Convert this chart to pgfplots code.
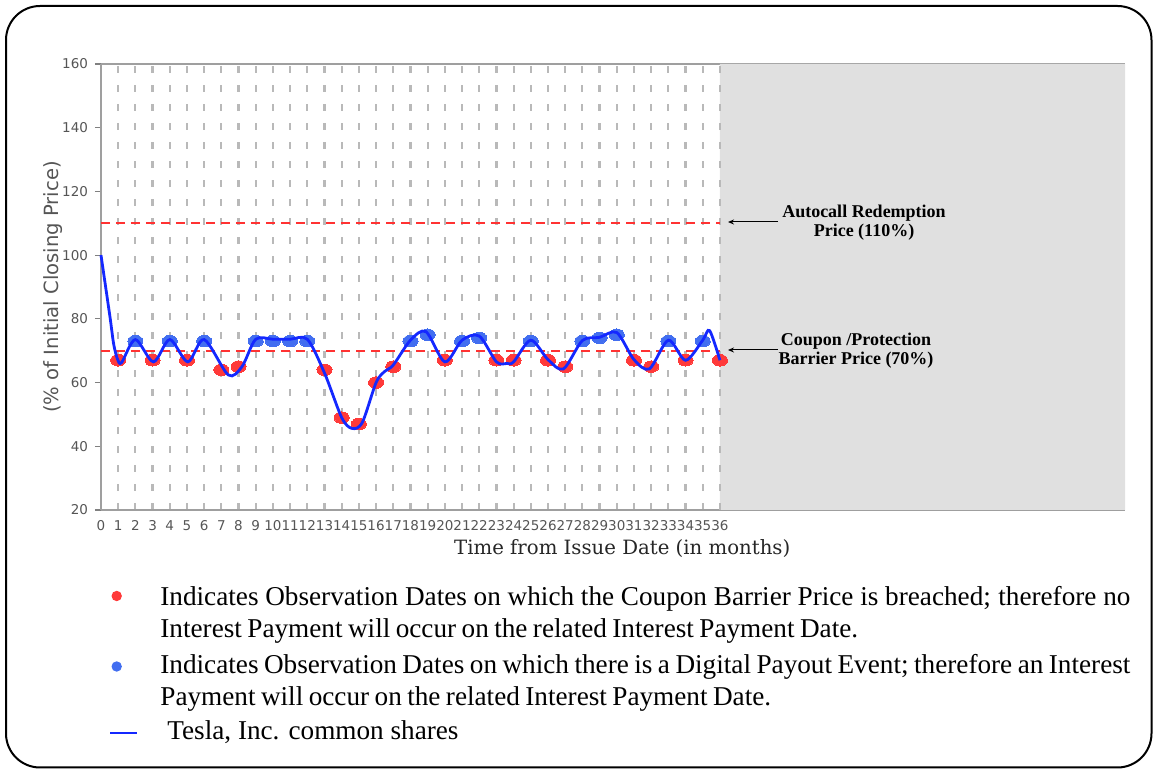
\documentclass[border=0pt]{standalone}
\usepackage{pgfplots}
\pgfplotsset{compat=1.18}
\usepackage{fontspec}
\setmainfont{Liberation Serif}
\newfontfamily\dejavu{DejaVu Sans}
\newfontfamily\dejavuserif{DejaVu Serif}
\usetikzlibrary{arrows.meta}
\definecolor{mkred}{RGB}{255,58,58}
\definecolor{mkblue}{RGB}{66,110,240}
\definecolor{lnblue}{RGB}{20,40,255}
\definecolor{shade}{RGB}{224,224,224}
\definecolor{txtgray}{RGB}{85,85,85}
\definecolor{dashred}{RGB}{255,50,50}
\begin{document}
\begin{tikzpicture}
\begin{scope}[x=0.5pt,y=-0.5pt]
\useasboundingbox (0,0) rectangle (1153,769);
\draw[line width=1pt, rounded corners=17pt] (6,6) rectangle (1151.5,767.5);
\end{scope}
\begin{axis}[
  at={(50.5pt,-32pt)}, anchor=north west,
  scale only axis, width=512pt, height=223pt,
  xmin=0, xmax=59.56, ymin=20, ymax=160,
  axis x line*=box, axis y line*=left,
  axis line style={draw=gray!75, line width=0.9pt},
  xtick={0,...,36},
  ytick={20,40,...,160},
  x tick style={draw=none},
  y tick style={draw=gray, line width=0.6pt},
  tick align=outside, major tick length=3pt,
  xmajorgrids,
  grid style={dash pattern=on 3.5pt off 6pt, line width=1.1pt, color=gray!55},
  /pgf/number format/assume math mode=true,
  ticklabel style={font=\dejavu\fontsize{6.75}{8}\selectfont, text=txtgray},
  xticklabel style={inner sep=1pt, yshift=-1pt},
  ylabel={(\% of Initial Closing Price)},
  ylabel style={font=\dejavu\fontsize{9.8}{11}\selectfont, text=txtgray, at={(axis description cs:-0.047,0.5)}, anchor=center, rotate=0},
  xlabel={Time from Issue Date (in months)},
  xlabel style={font=\dejavuserif\fontsize{9.85}{11}\selectfont, text=black!85, at={(axis description cs:0.509,-0.087)}, anchor=center},
  clip=false,
  clip marker paths=true,
]
\addplot[draw=none, fill=shade] coordinates {(36,20) (59.56,20) (59.56,160) (36,160)} \closedcycle;
\addplot[dash pattern=on 3.5pt off 6pt, line width=1.1pt, color=gray!55] coordinates {(36,20) (36,160)};
\addplot[dashred, line width=1pt, dash pattern=on 4.5pt off 3pt] coordinates {(0,110) (36,110)};
\addplot[dashred, line width=1pt, dash pattern=on 4.5pt off 3pt] coordinates {(0,70) (36,70)};
\addplot[only marks, color=mkred, mark=*, mark size=2.9pt, mark options={draw=mkred, fill=mkred, line width=0pt, xscale=1.3}] coordinates {
(1,67) (3,67) (5,67) (7,64) (8,65) (13,64) (14,49) (15,47) (16,60) (17,65)
(20,67) (23,67) (24,67) (26,67) (27,65) (31,67) (32,65) (34,67) (36,67)};
\addplot[only marks, color=mkblue, mark=*, mark size=2.9pt, mark options={draw=mkblue, fill=mkblue, line width=0pt, xscale=1.3}] coordinates {
(2,73) (4,73) (6,73) (9,73) (10,73) (11,73) (12,73) (18,73) (19,75) (21,73)
(22,74) (25,73) (28,73) (29,74) (30,75) (33,73) (35,73)};
\addplot[lnblue, line width=1.4pt, smooth, mark=none] coordinates {
(0,100) (0.52,80.7) (0.74,72) (0.97,67.2) (1.2,66.3) (2,73.5) (3.05,66.5) (4,73.5) (5.05,66.5) (6,73.5)
(7.4,62.4) (8.2,65) (9,73.6) (10,73.6) (11,73.6) (12,73.6) (13,63) (14,49) (14.6,45.6)
(15.2,47.5) (16,60) (16.5,63.5) (17,65.5) (18,73.3) (18.9,76) (20,66.5) (21,73.3)
(22,74.6) (23,66.5) (23.6,66) (24,66.5) (25,73.3) (26,67.2) (26.9,64.3) (28,73.2)
(29,74.2) (30,75.7) (31,67.2) (31.9,64.3) (33,73.3) (34,67) (35,73.3) (35.4,76.3) (36,67)};
\end{axis}
\begin{scope}[x=0.5pt,y=-0.5pt]
\draw[-{Stealth[length=3pt,width=2.5pt]}, line width=0.5pt] (778,222) -- (728,222);
\draw[-{Stealth[length=3pt,width=2.5pt]}, line width=0.5pt] (778,350) -- (728,350);
\node[font=\bfseries\fontsize{9}{9.5}\selectfont, align=center] at (864,223) {Autocall Redemption\\Price (110\%)};
\node[font=\bfseries\fontsize{9}{9.5}\selectfont, align=center] at (856,351) {Coupon /Protection\\Barrier Price (70\%)};
\fill[mkred] (116.7,596) circle (5.2);
\fill[mkblue] (116.7,666.5) circle (5.2);
\draw[lnblue, line width=1pt] (110,733) -- (137,733);
\node[anchor=base west, inner sep=0pt, font=\fontsize{13.6}{15.75}\selectfont] at (160,605.7) {\parbox[t]{485pt}{\spaceskip=0.2em plus 0.25em minus 0.04em Indicates Observation Dates on which the Coupon Barrier Price is breached; therefore no\linebreak Interest Payment will occur on the related Interest Payment Date.}};
\node[anchor=base west, inner sep=0pt, font=\fontsize{13.6}{15.75}\selectfont] at (160,674) {\parbox[t]{485pt}{\spaceskip=0.2em plus 0.25em minus 0.04em Indicates Observation Dates on which there is a Digital Payout Event; therefore an Interest\linebreak Payment will occur on the related Interest Payment Date.}};
\node[anchor=base west, inner sep=0pt, font=\fontsize{13.6}{15.75}\selectfont] at (167,740) {Tesla, Inc. common shares};
\end{scope}
\end{tikzpicture}
\end{document}
